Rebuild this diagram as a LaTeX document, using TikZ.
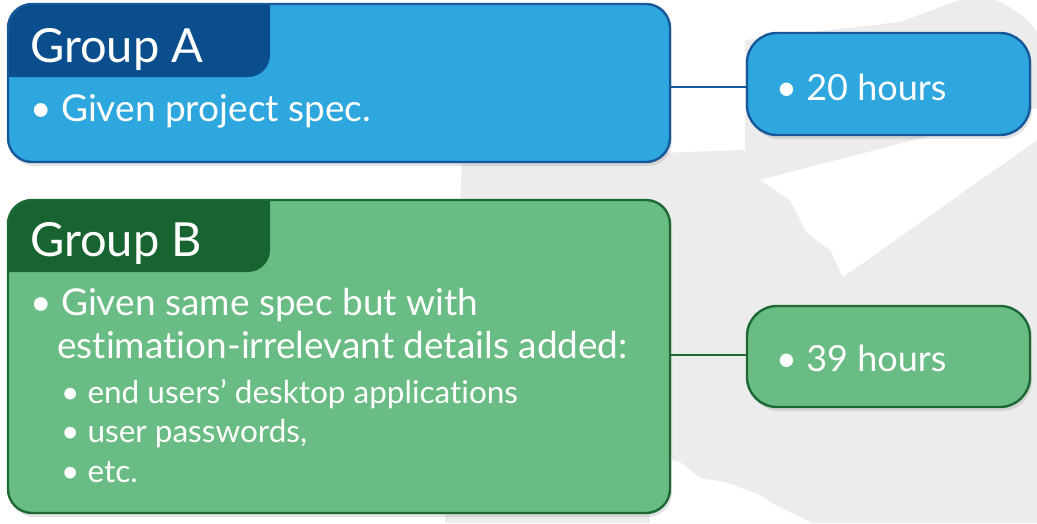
\documentclass[tikz,border=0pt]{standalone}
\usepackage{fontspec}
\setmainfont{Lato}[Ligatures=NoCommon]
\usetikzlibrary{shadows}

\definecolor{bgGrey}{HTML}{ECECEC}
\definecolor{blueFill}{HTML}{2DA7DE}
\definecolor{blueEdge}{HTML}{17589A}
\definecolor{blueHead}{HTML}{0A4E8E}
\definecolor{greenFill}{HTML}{69BC83}
\definecolor{greenEdge}{HTML}{1D6934}
\definecolor{greenHead}{HTML}{186430}

\tikzset{
  softshadow/.style={drop shadow={opacity=0.22, shadow xshift=2pt, shadow yshift=-4pt}},
  groupbox/.style={rounded corners=24pt, line width=2.4pt},
  resultbox/.style={rounded corners=30pt, line width=2.4pt},
  headtxt/.style={anchor=base west, text=white, inner sep=0pt, font=\fontsize{47}{54}\selectfont},
  bodytxt/.style={anchor=base west, text=white, inner sep=0pt, font=\fontsize{37}{42}\selectfont},
  restxt/.style={anchor=base west, text=white, inner sep=0pt, font=\fontsize{36}{42}\selectfont},
  subtxt/.style={anchor=base west, text=white, inner sep=0pt, font=\fontsize{31.5}{36}\selectfont},
  link/.style={line width=2.6pt},
}

\begin{document}
\begin{tikzpicture}[x=1pt, y=-1pt]
  % page and faint background emblem
  \fill[white] (0,0) rectangle (1037,523);
  \useasboundingbox (0,0) rectangle (1037,523);
  \fill[bgGrey] (445,523) -- (462,160) -- (745,150) -- (745,40) -- (900,22) -- (960,0) -- (1037,0) -- (1037,523) -- cycle;
  \fill[white] (760,180) -- (1037,108) -- (1037,140) -- (843,277) -- (830,250) -- (807,233) -- (790,200) -- cycle;
  \fill[white] (995,0) .. controls (1015,8) and (1030,20) .. (1037,32) -- (1037,0) -- cycle;
  \fill[white] (650,455) -- (680,462) -- (700,478) -- (725,482) -- (760,495) -- (775,505) -- (813,523) -- (650,523) -- cycle;

  % Group A
  \path[groupbox, softshadow, fill=blueFill] (8,4) rectangle (670,162);
  \begin{scope}
    \clip[rounded corners=24pt] (8,4) rectangle (670,162);
    \fill[blueHead, rounded corners=22pt] (-20,-40) -- (270,-40) -- (270,77) -- (-20,77) -- cycle;
  \end{scope}
  \draw[groupbox, draw=blueEdge] (8,4) rectangle (670,162);
  \node (grpA) at (8,4) [anchor=north west, minimum width=662pt, minimum height=158pt, inner sep=0pt] {};
  \node[headtxt] (headA) at (30,62) {Group A};
  \node[bodytxt] (bodyA) at (30,121) {\textbullet\ Given project spec.};

  % Group B
  \path[groupbox, softshadow, fill=greenFill] (8,200) rectangle (670,513);
  \begin{scope}
    \clip[rounded corners=24pt] (8,200) rectangle (670,513);
    \fill[greenHead, rounded corners=22pt] (-20,160) -- (270,160) -- (270,272) -- (-20,272) -- cycle;
  \end{scope}
  \draw[groupbox, draw=greenEdge] (8,200) rectangle (670,513);
  \node (grpB) at (8,200) [anchor=north west, minimum width=662pt, minimum height=313pt, inner sep=0pt] {};
  \node[headtxt] (headB) at (30,256) {Group B};
  \node[bodytxt] (bodyB1) at (30,315) {\textbullet\ Given same spec but with};
  \node[bodytxt] (bodyB2) at (57,358) {estimation-irrelevant details added:};
  \node[subtxt] (subB1) at (61,403) {\textbullet\ end users’ desktop applications};
  \node[subtxt] (subB2) at (61,442) {\textbullet\ user passwords,};
  \node[subtxt] (subB3) at (61,482) {\textbullet\ etc.};

  % Results
  \path[resultbox, softshadow, fill=blueFill, draw=blueEdge] (747,33) rectangle (1030,135);
  \node (resA) at (888.5,84) [minimum width=283pt, minimum height=102pt, inner sep=0pt] {};
  \node[restxt] (resAtxt) at (776,100) {\textbullet\ 20 hours};

  \path[resultbox, softshadow, fill=greenFill, draw=greenEdge] (747,306) rectangle (1030,407);
  \node (resB) at (888.5,356.5) [minimum width=283pt, minimum height=101pt, inner sep=0pt] {};
  \node[restxt] (resBtxt) at (776,371) {\textbullet\ 39 hours};

  % connectors
  \draw[link, blueEdge] (grpA.east |- 0,87) -- (resA.west |- 0,87);
  \draw[link, greenEdge] (grpB.east |- 0,355) -- (resB.west |- 0,355);
\end{tikzpicture}
\end{document}
